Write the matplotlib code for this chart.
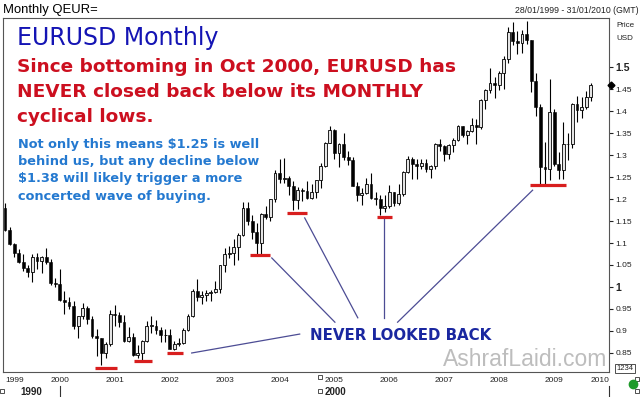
import matplotlib
matplotlib.use("Agg")
import matplotlib.pyplot as plt
import numpy as np

# ---------------- data (monthly EURUSD, Jan 1999 .. Sep 2009) ----------------
closes = [
    1.1300, 1.0980, 1.0765, 1.0575, 1.0430, 1.0350, 1.0680, 1.0590, 1.0690, 1.0560, 1.0090, 1.0070,
    0.9710, 0.9650, 0.9560, 0.9110, 0.9340, 0.9530, 0.9270, 0.8880, 0.8830, 0.8500, 0.8700, 0.9390,
    0.9370, 0.9200, 0.8780, 0.8870, 0.8460, 0.8490, 0.8770, 0.9120, 0.9120, 0.9030, 0.8900, 0.8900,
    0.8600, 0.8700, 0.8720, 0.9020, 0.9330, 0.9920, 0.9780, 0.9820, 0.9870, 0.9890, 0.9950, 1.0490,
    1.0740, 1.0780, 1.0910, 1.1180, 1.1790, 1.1500, 1.1240, 1.0990, 1.1650, 1.1580, 1.1990, 1.2590,
    1.2460, 1.2480, 1.2300, 1.1980, 1.2200, 1.2180, 1.2020, 1.2170, 1.2430, 1.2760, 1.3270, 1.3560,
    1.3040, 1.3250, 1.2960, 1.2880, 1.2300, 1.2100, 1.2130, 1.2340, 1.2020, 1.1990, 1.1790, 1.1840,
    1.2150, 1.1920, 1.2120, 1.2620, 1.2920, 1.2790, 1.2760, 1.2810, 1.2680, 1.2750, 1.3250, 1.3200,
    1.3020, 1.3230, 1.3350, 1.3650, 1.3450, 1.3540, 1.3690, 1.3640, 1.4260, 1.4480, 1.4640, 1.4590,
    1.4860, 1.5180, 1.5790, 1.5600, 1.5550, 1.5750, 1.5610, 1.4680, 1.4080, 1.2730, 1.2690, 1.3980,
    1.2800, 1.2670, 1.3250, 1.3240, 1.4150, 1.4030, 1.4100, 1.4320, 1.4600,
]
opens = [1.1790] + closes[:-1]
highs = [
    1.1905, 1.1370, 1.1000, 1.0860, 1.0750, 1.0500, 1.0740, 1.0770, 1.0700, 1.0880, 1.0640, 1.0200,
    1.0410, 0.9900, 0.9780, 0.9680, 0.9350, 0.9640, 0.9570, 0.9340, 0.9050, 0.8840, 0.8740, 0.9470,
    0.9590, 0.9440, 0.9370, 0.9090, 0.8950, 0.8680, 0.8800, 0.9230, 0.9330, 0.9260, 0.9080, 0.9050,
    0.9040, 0.8780, 0.8840, 0.9060, 0.9380, 0.9960, 1.0190, 0.9910, 0.9940, 0.9930, 1.0140, 1.0500,
    1.0880, 1.0930, 1.1080, 1.1230, 1.1930, 1.1930, 1.1640, 1.1450, 1.1690, 1.1840, 1.2000, 1.2650,
    1.2900, 1.2930, 1.2520, 1.2420, 1.2270, 1.2260, 1.2400, 1.2350, 1.2440, 1.2810, 1.3300, 1.3670,
    1.3580, 1.3280, 1.3490, 1.3100, 1.2950, 1.2380, 1.2260, 1.2480, 1.2590, 1.2150, 1.2100, 1.2090,
    1.2320, 1.2160, 1.2330, 1.2630, 1.2980, 1.2950, 1.2900, 1.2900, 1.2920, 1.2770, 1.3280, 1.3370,
    1.3220, 1.3260, 1.3390, 1.3680, 1.3650, 1.3560, 1.3850, 1.3810, 1.4280, 1.4500, 1.4970, 1.4770,
    1.4900, 1.5240, 1.5900, 1.6020, 1.5820, 1.5850, 1.6040, 1.5620, 1.4870, 1.4170, 1.3290, 1.4720,
    1.4050, 1.3070, 1.3740, 1.3510, 1.4180, 1.4340, 1.4310, 1.4450, 1.4640,
]
lows = [
    1.1270, 1.0960, 1.0680, 1.0550, 1.0370, 1.0220, 1.0110, 1.0400, 1.0320, 1.0520, 1.0050, 0.9990,
    0.9690, 0.9390, 0.9490, 0.9050, 0.8840, 0.9270, 0.9170, 0.8850, 0.8440, 0.8230, 0.8380, 0.8660,
    0.9110, 0.9080, 0.8760, 0.8760, 0.8430, 0.8380, 0.8350, 0.8750, 0.8960, 0.8940, 0.8760, 0.8750,
    0.8580, 0.8560, 0.8650, 0.8700, 0.9000, 0.9310, 0.9690, 0.9610, 0.9690, 0.9690, 0.9870, 0.9870,
    1.0340, 1.0670, 1.0500, 1.0620, 1.1170, 1.1410, 1.1080, 1.0760, 1.0760, 1.1540, 1.1500, 1.1930,
    1.2370, 1.2360, 1.2080, 1.1760, 1.1770, 1.1960, 1.2000, 1.2010, 1.2030, 1.2260, 1.2720, 1.3270,
    1.2900, 1.2720, 1.2880, 1.2770, 1.2300, 1.1950, 1.1870, 1.2110, 1.2000, 1.1870, 1.1640, 1.1700,
    1.1800, 1.1830, 1.1860, 1.2060, 1.2590, 1.2460, 1.2460, 1.2690, 1.2620, 1.2480, 1.2690, 1.3100,
    1.2860, 1.2920, 1.3070, 1.3320, 1.3410, 1.3260, 1.3530, 1.3260, 1.3590, 1.4040, 1.4410, 1.4300,
    1.4470, 1.4500, 1.5090, 1.5510, 1.5290, 1.5320, 1.5520, 1.4430, 1.3880, 1.2330, 1.2330, 1.2430,
    1.2760, 1.2460, 1.2450, 1.2890, 1.3160, 1.3750, 1.3850, 1.4050, 1.4230,
]
year_labels = ["1999", "2000", "2001", "2002", "2003", "2004", "2005",
               "2006", "2007", "2008", "2009", "2010"]
price_ticks = [0.85, 0.90, 0.95, 1.00, 1.05, 1.10, 1.15, 1.20, 1.25, 1.30, 1.35, 1.40, 1.45, 1.50]
price_labels = ["0.85", "0.9", "0.95", "1", "1.05", "1.1", "1.15", "1.2", "1.25",
                "1.3", "1.35", "1.4", "1.45", "1.5"]

# cyclical lows marked in red: (start month, end month, level)
low_start = [19.6, 28.2, 35.4, 53.5, 61.6, 81.2, 114.8]
low_end = [24.4, 32.1, 38.9, 57.9, 65.9, 84.5, 122.5]
low_level = [0.816, 0.832, 0.850, 1.073, 1.168, 1.159, 1.232]

# connector lines from lows to the "NEVER LOOKED BACK" label
conn_x0 = [40.8, 58.3, 65.5, 82.8, 115.3]
conn_y0 = [0.850, 1.066, 1.157, 1.155, 1.220]
conn_x1 = [64.4, 72.1, 77.1, 82.8, 85.8]
conn_y1 = [0.893, 0.920, 0.930, 0.930, 0.920]

# ---------------- figure ----------------
W, H = 640, 397
plt.rcParams["font.family"] = ["DejaVu Sans"]
fig = plt.figure(figsize=(W / 100, H / 100), dpi=100)
fig.patch.set_facecolor("white")

L, R, T, B = 3, 609, 18, 372
ax = fig.add_axes([L / W, 1 - B / H, (R - L) / W, (B - T) / H])
ax.set_facecolor("white")

o = np.array(opens); h = np.array(highs); l = np.array(lows); c = np.array(closes)
idx = np.arange(len(c))
up = c >= o
ax.vlines(idx, l, h, color="black", lw=0.8, zorder=2)
body_up = np.maximum((c - o)[up], 0.002)
body_dn = np.maximum((o - c)[~up], 0.002)
ax.bar(idx[up], body_up, bottom=o[up], width=0.62, facecolor="#e4e4e4",
       edgecolor="black", lw=0.6, zorder=3)
ax.bar(idx[~up], body_dn, bottom=c[~up], width=0.62, facecolor="black",
       edgecolor="black", lw=0.4, zorder=3)

ax.hlines(low_level, low_start, low_end, color="#d81e1e", lw=2.3, zorder=4)
for x0, y0, x1, y1 in zip(conn_x0, conn_y0, conn_x1, conn_y1):
    ax.plot([x0, x1], [y0, y1], color="#4c4c94", lw=0.9, zorder=4)

ax.text(66.6, 0.8795, "NEVER LOOKED BACK", color="#1a27a0", fontsize=10.8,
        fontweight="bold", ha="left", va="baseline", zorder=5)

ax.set_xlim(-0.437, 131.9)
ax.set_ylim(0.8068, 1.6114)

# y axis on the right
ax.yaxis.tick_right()
ax.set_yticks(price_ticks)
ax.set_yticklabels(price_labels)
ax.tick_params(axis="y", direction="out", length=3, width=0.8, pad=1.5,
               labelsize=6, colors="#222222")
for lab in ax.get_yticklabels():
    lab.set_family("Liberation Sans")
    if lab.get_text() in ("1.5", "1"):
        lab.set_fontweight("bold")
        lab.set_fontsize(7.5)

# x axis years
ax.set_xticks([12 * i for i in range(len(year_labels))])
ax.set_xticklabels(year_labels)
ax.tick_params(axis="x", length=0, pad=3.5, labelsize=6, colors="#222222")
for lab in ax.get_xticklabels():
    lab.set_family("Liberation Sans")
ax.get_xticklabels()[0].set_horizontalalignment("left")
ax.get_xticklabels()[-1].set_horizontalalignment("right")

for s in ax.spines.values():
    s.set_color("#555555")
    s.set_linewidth(0.8)

# last price marker on the axis
ax.plot([1.004], [closes[-1]], marker="D", ms=3.5, color="black",
        transform=ax.get_yaxis_transform(), clip_on=False, zorder=6)


def ftext(x, y, s, **kw):
    fig.text(x / W, 1 - y / H, s, va="baseline", **kw)


ftext(3, 13, "Monthly QEUR=", family="Liberation Sans", fontsize=9.4, color="black")
ftext(639, 13, "28/01/1999 - 31/01/2010 (GMT)", family="Liberation Sans",
      fontsize=6.3, color="#222222", ha="right")
ftext(616, 27, "Price", family="Liberation Sans", fontsize=5.8, color="#222222")
ftext(616, 40, "USD", family="Liberation Sans", fontsize=5.8, color="#222222")

ftext(17, 45.5, "EURUSD Monthly", fontsize=17, color="#1414b4")
red = "#cc0f1f"
ftext(17, 72.3, "Since bottoming in Oct 2000, EURUSD has", fontsize=13.3,
      fontweight="bold", color=red)
ftext(17, 97.3, "NEVER closed back below its MONTHLY", fontsize=13.3,
      fontweight="bold", color=red)
ftext(17, 122.3, "cyclical lows.", fontsize=13.3, fontweight="bold", color=red)
blue = "#2479d0"
for i, line in enumerate(["Not only this means $1.25 is well",
                          "behind us, but any decline below",
                          "$1.38 will likely trigger a more",
                          "concerted wave of buying."]):
    ftext(18, 147.7 + 17.3 * i, line, fontsize=9.3, fontweight="bold", color=blue)

ftext(607, 366, "AshrafLaidi.com", family="Liberation Sans", fontsize=16.5,
      color="#bdbdbd", ha="right", zorder=1)

ftext(31, 395, "1990", family="Liberation Sans", fontsize=7, fontweight="bold",
      color="#222222", ha="center")
ftext(335, 395, "2000", family="Liberation Sans", fontsize=7, fontweight="bold",
      color="#222222", ha="center")
ftext(625, 370, "1234", family="Liberation Sans", fontsize=5.5, color="#222222",
      ha="center", bbox=dict(boxstyle="square,pad=0.15", fc="white", ec="#333333", lw=0.6))

# overlay for small decorations in pixel coordinates
ov = fig.add_axes([0, 0, 1, 1], facecolor="none")
ov.set_xlim(0, W); ov.set_ylim(H, 0); ov.axis("off")
ov.plot([60, 60], [386, 397], color="#333333", lw=0.8)
ov.plot([609, 609], [386, 397], color="#333333", lw=0.8)
for (px, py) in [(2, 391), (320, 377), (320, 391), (637, 379), (637, 391)]:
    ov.plot([px], [py], marker="s", ms=2.6, mfc="white", mec="#333333", mew=0.6)
ov.plot([633], [384], marker="o", ms=6, color="#1e9a2a")

fig.savefig("out.png", dpi=100, facecolor="white")
